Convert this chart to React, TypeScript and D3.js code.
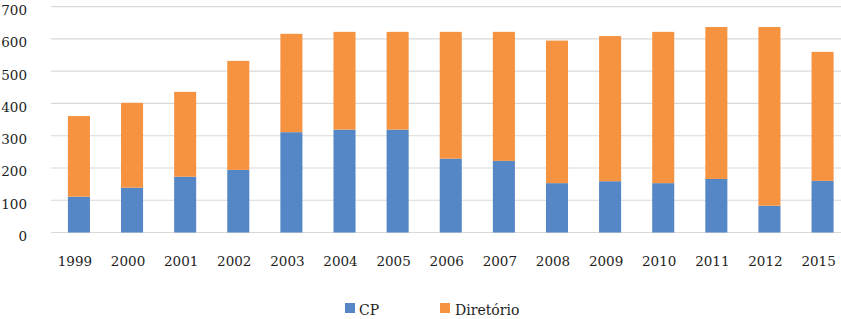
import React from "react";
import * as d3 from "d3";

const years = ["1999","2000","2001","2002","2003","2004","2005","2006","2007","2008","2009","2010","2011","2012","2015"];
const cp = [111, 139, 173, 194, 311, 319, 319, 229, 222, 153, 159, 153, 166, 83, 160];
const diretorio = [250, 263, 263, 338, 305, 303, 303, 393, 400, 442, 450, 469, 471, 554, 400];
const yTicks = [0, 100, 200, 300, 400, 500, 600, 700];
const seriesNames = ["CP", "Diretório"];
const colors = ["#5586C6", "#F59341"];

const W = 841, H = 319;
const FONT = "DejaVu Serif";

export default function App() {
  const x = d3.scaleBand<string>().domain(years).range([52.5, 849]).paddingInner(0.585).paddingOuter(0.29);
  const y = d3.scaleLinear().domain([0, 700]).range([232.5, 6.7]);
  const rows = years.map((yr, i) => ({ yr, CP: cp[i], "Diretório": diretorio[i] }));
  const stack = d3.stack<any>().keys(seriesNames)(rows);
  const txt = { fontFamily: FONT, fill: "#1e1e1e" } as React.CSSProperties;

  return (
    <svg width={W} height={H} style={{ position: "absolute", left: 0, top: 0, background: "#fff" }}>
      {yTicks.map((t) => (
        <g key={t}>
          <line x1={51} x2={W} y1={y(t)} y2={y(t)} stroke="#d9d9d9" strokeWidth={1.2} />
          <text x={27} y={y(t) + 8.5} textAnchor="end" fontSize={13.5} style={txt}>{t}</text>
        </g>
      ))}
      {stack.map((s, si) => (
        <g key={si} fill={colors[si]}>
          {s.map((d, i) => (
            <rect key={i} x={x(years[i])!} width={x.bandwidth()} y={y(d[1])} height={y(d[0]) - y(d[1])} />
          ))}
        </g>
      ))}
      {years.map((yr) => (
        <text key={yr} x={x(yr)! + x.bandwidth() / 2 - 4} y={266} textAnchor="middle" fontSize={13.5} style={txt}>{yr}</text>
      ))}
      <g>
        <rect x={345} y={303} width={10} height={10} fill={colors[0]} />
        <text x={359} y={315} fontSize={14} style={txt}>{seriesNames[0]}</text>
        <rect x={440} y={303} width={10} height={10} fill={colors[1]} />
        <text x={455} y={315} fontSize={14} style={txt}>{seriesNames[1]}</text>
      </g>
    </svg>
  );
}
